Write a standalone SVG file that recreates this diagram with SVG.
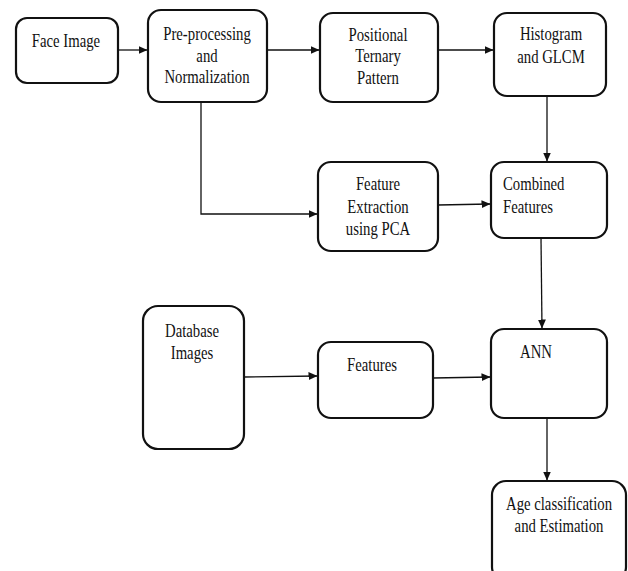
<svg xmlns="http://www.w3.org/2000/svg" width="628" height="571" viewBox="0 0 628 571">
<style>
.box{fill:#fff;stroke:#111;stroke-width:2.2}
.t{font-size:18px;fill:#111;text-anchor:middle}
.l{text-anchor:start}
.c{fill:none;stroke:#111;stroke-width:1.3}
</style>
<defs>
<marker id="ah" markerWidth="9" markerHeight="8" refX="8.5" refY="4" orient="auto" markerUnits="userSpaceOnUse">
<path d="M0,0 L9,4 L0,8 Z" fill="#111"/>
</marker>
</defs>
<rect width="628" height="571" fill="#fff"/>
<g id="connectors">
<line class="c" x1="118" y1="50" x2="147" y2="50" marker-end="url(#ah)"/>
<line class="c" x1="267" y1="50" x2="319" y2="50" marker-end="url(#ah)"/>
<line class="c" x1="438" y1="50" x2="493" y2="50" marker-end="url(#ah)"/>
<line class="c" x1="547" y1="96" x2="547" y2="161" marker-end="url(#ah)"/>
<polyline class="c" points="201,102 201,214 317,214" marker-end="url(#ah)"/>
<line class="c" x1="438" y1="205" x2="490" y2="204" marker-end="url(#ah)"/>
<line class="c" x1="541" y1="238" x2="542" y2="328" marker-end="url(#ah)"/>
<line class="c" x1="244" y1="377" x2="317" y2="376" marker-end="url(#ah)"/>
<line class="c" x1="433" y1="378" x2="490" y2="377" marker-end="url(#ah)"/>
<line class="c" x1="547" y1="418" x2="547" y2="480" marker-end="url(#ah)"/>
</g>
<g font-family="'Liberation Serif', 'DejaVu Serif', serif">
<g id="face-image">
<rect class="box" x="16" y="18" width="102" height="65" rx="11"/>
<text class="t" transform="translate(66,47) scale(0.82,1)">Face Image</text>
</g>
<g id="preprocessing">
<rect class="box" x="148" y="10" width="119" height="92" rx="13"/>
<text class="t" transform="translate(207,40) scale(0.82,1)">Pre-processing</text>
<text class="t" transform="translate(207,62) scale(0.82,1)">and</text>
<text class="t" transform="translate(207,83) scale(0.82,1)">Normalization</text>
</g>
<g id="ptp">
<rect class="box" x="320" y="13" width="118" height="89" rx="13"/>
<text class="t" transform="translate(378,41) scale(0.82,1)">Positional</text>
<text class="t" transform="translate(378,62) scale(0.82,1)">Ternary</text>
<text class="t" transform="translate(378,84) scale(0.82,1)">Pattern</text>
</g>
<g id="histogram">
<rect class="box" x="494" y="13" width="112" height="83" rx="13"/>
<text class="t" transform="translate(551,40) scale(0.82,1)">Histogram</text>
<text class="t" transform="translate(551,63) scale(0.82,1)">and GLCM</text>
</g>
<g id="pca">
<rect class="box" x="318" y="162" width="120" height="89" rx="13"/>
<text class="t" transform="translate(378,190) scale(0.82,1)">Feature</text>
<text class="t" transform="translate(378,213) scale(0.82,1)">Extraction</text>
<text class="t" transform="translate(378,235) scale(0.82,1)">using PCA</text>
</g>
<g id="combined">
<rect class="box" x="491" y="162" width="116" height="76" rx="13"/>
<text class="t l" transform="translate(503,190) scale(0.82,1)">Combined</text>
<text class="t l" transform="translate(503,213) scale(0.82,1)">Features</text>
</g>
<g id="database">
<rect class="box" x="143" y="306" width="101" height="143" rx="15"/>
<text class="t" transform="translate(192,337) scale(0.82,1)">Database</text>
<text class="t" transform="translate(192,359) scale(0.82,1)">Images</text>
</g>
<g id="features">
<rect class="box" x="318" y="342" width="115" height="76" rx="13"/>
<text class="t" transform="translate(372,371) scale(0.82,1)">Features</text>
</g>
<g id="ann">
<rect class="box" x="491" y="329" width="116" height="89" rx="13"/>
<text class="t" transform="translate(536,358) scale(0.82,1)">ANN</text>
</g>
<g id="age">
<rect class="box" x="492" y="481" width="134" height="100" rx="14"/>
<text class="t" transform="translate(559,510) scale(0.82,1)">Age classification</text>
<text class="t" transform="translate(559,532) scale(0.82,1)">and Estimation</text>
</g>
</g>
</svg>
